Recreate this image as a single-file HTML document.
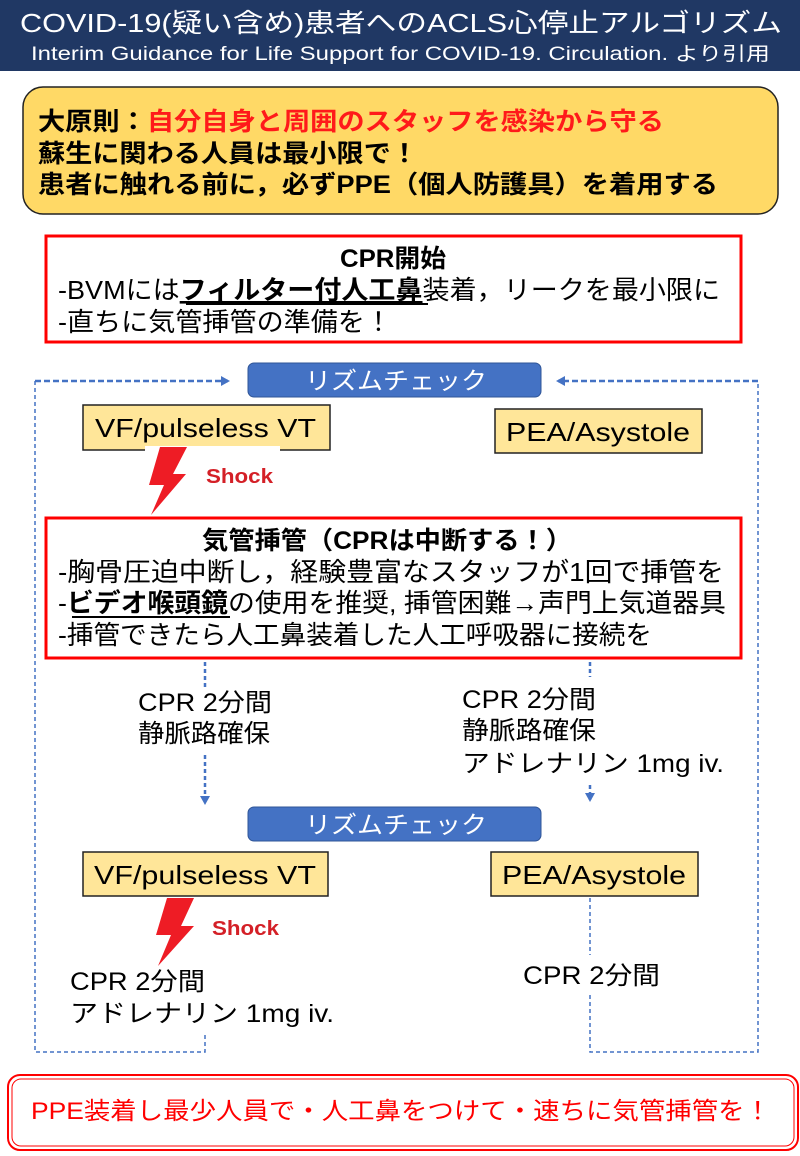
<!DOCTYPE html>
<html><head><meta charset="utf-8"><style>
html,body{margin:0;padding:0;background:#fff;}
svg{display:block;}
text{font-family:"Liberation Sans","Noto Sans CJK JP",sans-serif;}
</style></head><body>
<svg width="800" height="1156" viewBox="0 0 800 1156" xmlns="http://www.w3.org/2000/svg">
<defs><marker id="ah" markerWidth="10" markerHeight="10" refX="7" refY="5" orient="auto" markerUnits="userSpaceOnUse"><path d="M0,0 L9,5 L0,10 z" fill="#4472c4"/></marker></defs>
<rect x="0" y="0" width="800" height="71" fill="#203864"/>
<text x="20" y="32" font-size="26" fill="#fff" textLength="762" lengthAdjust="spacingAndGlyphs">COVID-19(疑い含め)患者へのACLS心停止アルゴリズム</text>
<text x="31" y="60" font-size="19" fill="#fff" textLength="739" lengthAdjust="spacingAndGlyphs">Interim Guidance for Life Support for COVID-19. Circulation. より引用</text>

<rect x="23" y="87" width="755" height="127" rx="20" fill="#ffd966" stroke="#222" stroke-width="1.5"/>
<text x="38" y="130" font-size="25" font-weight="bold" textLength="626" lengthAdjust="spacingAndGlyphs"><tspan fill="#000">大原則：</tspan><tspan fill="#ff1a1a">自分自身と周囲のスタッフを感染から守る</tspan></text>
<text x="38" y="162" font-size="25" font-weight="bold" textLength="380" lengthAdjust="spacingAndGlyphs">蘇生に関わる人員は最小限で！</text>
<text x="38" y="193" font-size="25" font-weight="bold" textLength="680" lengthAdjust="spacingAndGlyphs">患者に触れる前に，必ずPPE（個人防護具）を着用する</text>

<rect x="46" y="236" width="695" height="106" fill="#fff" stroke="#ff0000" stroke-width="3"/>
<text x="340" y="267" font-size="25" font-weight="bold" textLength="106" lengthAdjust="spacingAndGlyphs">CPR開始</text>
<text x="58" y="299" font-size="26" textLength="662" lengthAdjust="spacingAndGlyphs">-BVMには<tspan font-weight="bold" text-decoration="underline">フィルター付人工鼻</tspan>装着，リークを最小限に</text>
<line x1="186" y1="304" x2="428" y2="304" stroke="#000" stroke-width="2"/>
<text x="58" y="331" font-size="26" textLength="334" lengthAdjust="spacingAndGlyphs">-直ちに気管挿管の準備を！</text>

<g fill="none" stroke="#4472c4" stroke-width="1.5" stroke-dasharray="4,3">
<polyline points="205,1035 205,1052 35,1052 35,381"/>
<polyline points="590,995 590,1052 758,1052 758,381"/>
<line x1="35" y1="381" x2="228" y2="381" stroke-width="2.5" stroke-dasharray="6,3" marker-end="url(#ah)"/>
<line x1="758" y1="381" x2="558" y2="381" stroke-width="2.5" stroke-dasharray="6,3" marker-end="url(#ah)"/>
<line x1="590" y1="898" x2="590" y2="955"/>
<line x1="205" y1="662" x2="205" y2="690" stroke-width="2.5"/>
<line x1="205" y1="755" x2="205" y2="803" stroke-width="2.5" marker-end="url(#ah)"/>
<line x1="590" y1="662" x2="590" y2="677" stroke-width="2.5"/>
<line x1="590" y1="785" x2="590" y2="800" stroke-width="2.5" marker-end="url(#ah)"/>
</g>

<rect x="248" y="363" width="293" height="34" rx="6" fill="#4472c4" stroke="#2f5597"/>
<text x="305" y="389" font-size="24" fill="#fff" textLength="182" lengthAdjust="spacingAndGlyphs">リズムチェック</text>
<rect x="83" y="405" width="247" height="45" fill="#ffe699" stroke="#222" stroke-width="1.5"/>
<text x="95" y="437" font-size="26" textLength="221" lengthAdjust="spacingAndGlyphs">VF/pulseless VT</text>
<rect x="495" y="409" width="207" height="44" fill="#ffe699" stroke="#222" stroke-width="1.5"/>
<text x="506" y="441" font-size="26" textLength="184" lengthAdjust="spacingAndGlyphs">PEA/Asystole</text>

<rect x="145" y="446" width="135" height="60" fill="#fff"/>
<polygon points="160,447 187,447 173,474 186,474 151,515 164,485 149,485" fill="#ee1c25"/>
<text x="206" y="483" font-size="20" font-weight="bold" fill="#d42027" textLength="67" lengthAdjust="spacingAndGlyphs">Shock</text>

<rect x="46" y="518" width="695" height="140" fill="#fff" stroke="#ff0000" stroke-width="3"/>
<text x="202" y="549" font-size="25" font-weight="bold" textLength="370" lengthAdjust="spacingAndGlyphs">気管挿管（CPRは中断する！）</text>
<text x="58" y="581" font-size="26" textLength="666" lengthAdjust="spacingAndGlyphs">-胸骨圧迫中断し，経験豊富なスタッフが1回で挿管を</text>
<text x="58" y="612" font-size="26" textLength="668" lengthAdjust="spacingAndGlyphs">-<tspan font-weight="bold">ビデオ喉頭鏡</tspan>の使用を推奨, 挿管困難→声門上気道器具</text>
<line x1="72" y1="617" x2="230" y2="617" stroke="#000" stroke-width="2"/>
<text x="58" y="644" font-size="26" textLength="594" lengthAdjust="spacingAndGlyphs">-挿管できたら人工鼻装着した人工呼吸器に接続を</text>

<text x="138" y="711" font-size="25" textLength="134" lengthAdjust="spacingAndGlyphs">CPR 2分間</text>
<text x="138" y="742" font-size="25" textLength="132" lengthAdjust="spacingAndGlyphs">静脈路確保</text>
<text x="462" y="708" font-size="25" textLength="134" lengthAdjust="spacingAndGlyphs">CPR 2分間</text>
<text x="462" y="739" font-size="25" textLength="134" lengthAdjust="spacingAndGlyphs">静脈路確保</text>
<text x="462" y="772" font-size="25" textLength="262" lengthAdjust="spacingAndGlyphs">アドレナリン 1mg iv.</text>

<rect x="248" y="807" width="293" height="34" rx="6" fill="#4472c4" stroke="#2f5597"/>
<text x="305" y="833" font-size="24" fill="#fff" textLength="182" lengthAdjust="spacingAndGlyphs">リズムチェック</text>
<rect x="83" y="852" width="245" height="44" fill="#ffe699" stroke="#222" stroke-width="1.5"/>
<text x="94" y="884" font-size="26" textLength="222" lengthAdjust="spacingAndGlyphs">VF/pulseless VT</text>
<rect x="491" y="852" width="207" height="44" fill="#ffe699" stroke="#222" stroke-width="1.5"/>
<text x="502" y="884" font-size="26" textLength="184" lengthAdjust="spacingAndGlyphs">PEA/Asystole</text>

<polygon points="167,898 194,898 181,926 194,926 158,966 171,935 156,935" fill="#ee1c25"/>
<text x="212" y="935" font-size="20" font-weight="bold" fill="#d42027" textLength="67" lengthAdjust="spacingAndGlyphs">Shock</text>

<text x="70" y="990" font-size="25" textLength="135" lengthAdjust="spacingAndGlyphs">CPR 2分間</text>
<text x="70" y="1022" font-size="25" textLength="264" lengthAdjust="spacingAndGlyphs">アドレナリン 1mg iv.</text>
<text x="523" y="984" font-size="25" textLength="137" lengthAdjust="spacingAndGlyphs">CPR 2分間</text>

<rect x="8" y="1075" width="790" height="75" rx="12" fill="#fff" stroke="#ff0000" stroke-width="2"/>
<rect x="12" y="1079" width="782" height="67" rx="9" fill="none" stroke="#ff0000" stroke-width="1"/>
<text x="31" y="1119" font-size="24" fill="#ff0000" textLength="740" lengthAdjust="spacingAndGlyphs">PPE装着し最少人員で・人工鼻をつけて・速ちに気管挿管を！</text>
</svg>
</body></html>
